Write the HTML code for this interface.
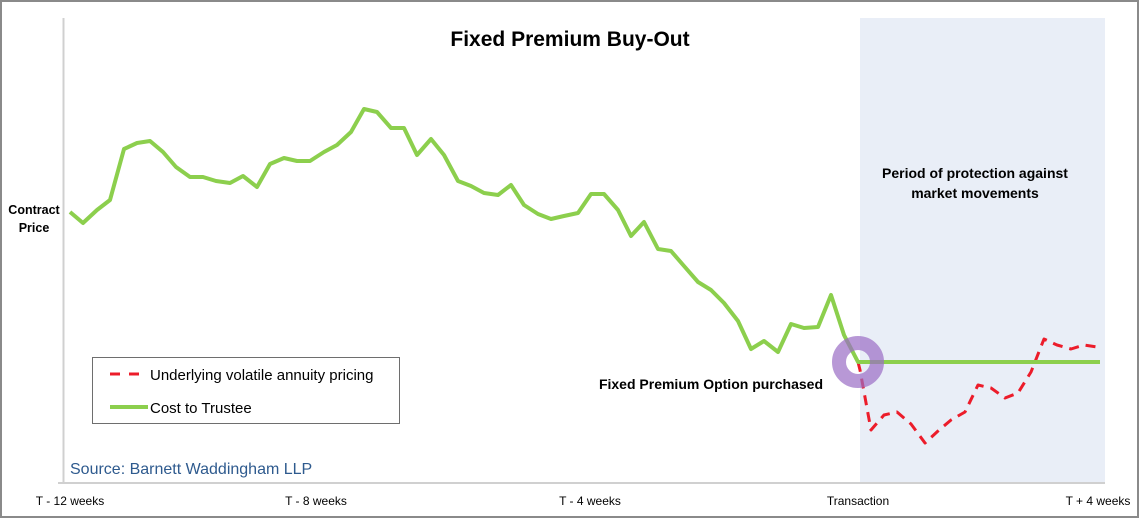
<!DOCTYPE html>
<html><head><meta charset="utf-8"><style>
body{margin:0;background:#fff}
svg{display:block;font-family:"Liberation Sans",sans-serif}
</style></head><body>
<svg width="1140" height="519" viewBox="0 0 1140 519" xmlns="http://www.w3.org/2000/svg">
<rect x="1" y="1" width="1137" height="516" fill="#fff" stroke="#8a8a8a" stroke-width="2"/>
<rect x="860" y="18" width="245" height="464" fill="#e9eef7"/>
<line x1="63.5" y1="18" x2="63.5" y2="483" stroke="#d0d0d0" stroke-width="2"/>
<line x1="58" y1="483" x2="1105" y2="483" stroke="#d0d0d0" stroke-width="2"/>
<text x="570" y="46" font-size="21" font-weight="bold" text-anchor="middle" fill="#000">Fixed Premium Buy-Out</text>
<text x="34" y="214" font-size="12.5" font-weight="bold" text-anchor="middle">Contract</text>
<text x="34" y="232" font-size="12.5" font-weight="bold" text-anchor="middle">Price</text>
<text x="975" y="178" font-size="14" font-weight="bold" text-anchor="middle">Period of  protection against</text>
<text x="975" y="198" font-size="14" font-weight="bold" text-anchor="middle">market movements</text>
<text x="823" y="389" font-size="14" font-weight="bold" text-anchor="end">Fixed Premium Option purchased</text>
<polyline fill="none" stroke="#ec1c2a" stroke-width="3" stroke-dasharray="10,7" stroke-linejoin="round" points="858,362 860,370 871,430 884,415 897,412 911,424 925,443 938,431 951,420 965,412 978,385 991,388 1005,398 1018,393 1031,372 1044,339 1057,345 1071,349 1084,345 1097,347"/>
<polyline fill="none" stroke="#8ccf4d" stroke-width="4" stroke-linejoin="round" points="70,212 83,223 97,210 110,200 124,149 137,143 150,141 163,152 176,167 190,177 203,177 216,181 230,183 243,176 257,187 270,164 284,158 297,161 310,161 324,152 337,145 351,132 364,109 377,112 391,128 404,128 417,155 431,139 444,155 458,181 471,186 484,193 498,195 511,185 524,205 538,214 551,219 564,216 578,213 591,194 604,194 618,210 631,236 644,222 658,249 671,251 684,266 698,282 711,290 724,303 738,321 751,349 764,341 778,352 791,324 804,328 818,327 831,295 844,335 858,362 1100,362"/>
<circle cx="858" cy="362" r="19" fill="none" stroke="#9a6cc4" stroke-opacity="0.7" stroke-width="14"/>
<rect x="92.5" y="357.5" width="307" height="66" fill="#fff" stroke="#6e6e6e" stroke-width="1"/>
<line x1="110" y1="374" x2="140" y2="374" stroke="#ec1c2a" stroke-width="3" stroke-dasharray="10,9"/>
<text x="150" y="380" font-size="15" fill="#000">Underlying volatile annuity pricing</text>
<line x1="110" y1="407" x2="148" y2="407" stroke="#8ccf4d" stroke-width="4"/>
<text x="150" y="413" font-size="15" fill="#000">Cost to Trustee</text>
<text x="70" y="474" font-size="16" fill="#2e5a8e">Source:  Barnett Waddingham LLP</text>
<g font-size="12" fill="#000" text-anchor="middle">
<text x="70" y="505">T - 12 weeks</text>
<text x="316" y="505">T - 8 weeks</text>
<text x="590" y="505">T - 4 weeks</text>
<text x="858" y="505">Transaction</text>
<text x="1098" y="505">T + 4 weeks</text>
</g>
</svg>
</body></html>
